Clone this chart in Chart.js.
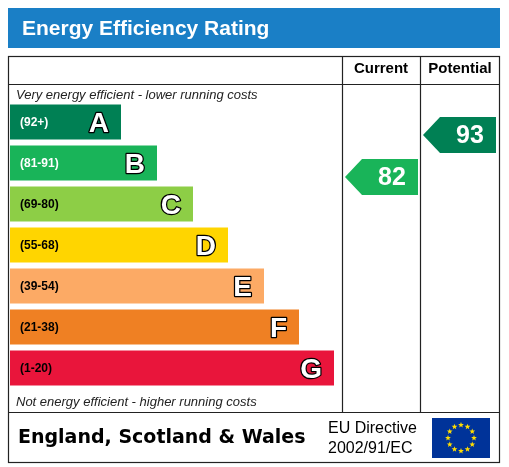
<!DOCTYPE html><html><head><meta charset="utf-8">
<script src="https://cdn.jsdelivr.net/npm/chart.js@4"></script>
<style>html,body{margin:0;padding:0;background:#fff}#w{width:509px;height:467px}</style></head><body><div id="w"><canvas id="c"></canvas></div>
<script>
const bands=['A','B','C','D','E','F','G'];
const ranges=['(92+)','(81-91)','(69-80)','(55-68)','(39-54)','(21-38)','(1-20)'];
const barLengths=[111,147,183,218,254,289,324];
const colors=['#008054','#19b459','#8dce46','#ffd500','#fcaa65','#ef8023','#e9153b'];
const currentRating=82, potentialRating=93;
function bandIdx(v){return v>=92?0:v>=81?1:v>=69?2:v>=55?3:v>=39?4:v>=21?5:6;}
const deco={id:'deco',afterDraw(ch){
 const c=ch.ctx,ys=ch.scales.y;c.save();
 const pxPerPt=(ys.getPixelForValue(1)-ys.getPixelForValue(0))*42/41/11;
 const ratingY=v=>ys.getPixelForValue(0)+(96.4-v)*pxPerPt;
 c.fillStyle='#1a7fc6';c.fillRect(8,8,492,40);
 c.fillStyle='#fff';c.font='bold 21px "Liberation Sans",Arial';c.textBaseline='middle';c.fillText('Energy Efficiency Rating',22,29);
 c.strokeStyle='#222';c.lineWidth=1.2;c.strokeRect(8.5,56.5,491,406);
 c.beginPath();c.moveTo(342.5,56);c.lineTo(342.5,412);c.moveTo(420.5,56);c.lineTo(420.5,412);
 c.moveTo(8,84.5);c.lineTo(500,84.5);c.moveTo(8,412.5);c.lineTo(500,412.5);c.stroke();
 c.fillStyle='#000';c.font='bold 15px "Liberation Sans",Arial';c.textAlign='center';
 c.fillText('Current',381,69);c.fillText('Potential',460,69);
 c.textAlign='left';c.font='italic 13px "Liberation Sans",Arial';c.fillStyle='#222';
 c.fillText('Very energy efficient - lower running costs',16,95);
 c.fillText('Not energy efficient - higher running costs',16,402);
 const xs=ch.scales.x;
 bands.forEach((b,i)=>{const y=ys.getPixelForValue(i),xe=xs.getPixelForValue(barLengths[i]);
  c.font='bold 12px "Liberation Sans",Arial';c.fillStyle=i<2?'#fff':'#000';c.textAlign='left';c.fillText(ranges[i],20,y+1);
  c.font='bold 28px "Liberation Sans",Arial';c.textAlign='right';c.lineWidth=2.5;c.strokeStyle='#000';c.lineJoin='round';
  c.strokeText(b,xe-12,y+2);c.fillStyle='#fff';c.fillText(b,xe-12,y+2);});
 function arrow(v,x0,x1){const y=ratingY(v),h=18;c.fillStyle=colors[bandIdx(v)];
  c.beginPath();c.moveTo(x0,y);c.lineTo(x0+17,y-h);c.lineTo(x1,y-h);c.lineTo(x1,y+h);c.lineTo(x0+17,y+h);c.closePath();c.fill();
  c.fillStyle='#fff';c.font='bold 25px "Liberation Sans",Arial';c.textAlign='center';c.fillText(String(v),(x0+17+x1)/2+2,y+1);}
 arrow(currentRating,345,418);arrow(potentialRating,423,496);
 c.fillStyle='#000';c.textAlign='left';c.font='bold 19px "DejaVu Sans",Arial';c.fillText('England, Scotland & Wales',18,438);
 c.font='16px "Liberation Sans",Arial';c.fillText('EU Directive',328,429);c.fillText('2002/91/EC',328,449);
 c.fillStyle='#003399';c.fillRect(432,418,58,40);c.fillStyle='#ffdd00';
 for(let k=0;k<12;k++){const a=k*Math.PI/6,sx=461+13*Math.cos(a),sy=438+13*Math.sin(a);
  c.beginPath();for(let p=0;p<10;p++){const r=p%2?1.3:3,t=-Math.PI/2+p*Math.PI/5;c.lineTo(sx+r*Math.cos(t),sy+r*Math.sin(t));}c.fill();}
 c.restore();}};
new Chart(document.getElementById('c'),{type:'bar',
 data:{labels:bands,datasets:[{data:barLengths,backgroundColor:colors,categoryPercentage:1,barPercentage:0.854,borderWidth:0}]},
 options:{indexAxis:'y',responsive:true,maintainAspectRatio:false,animation:false,
  layout:{padding:{left:10,right:169,top:101.5,bottom:78.5}},
  plugins:{legend:{display:false},tooltip:{enabled:false}},
  scales:{x:{display:false,min:0,max:330},y:{display:false}}},
 plugins:[deco]});
</script></body></html>
